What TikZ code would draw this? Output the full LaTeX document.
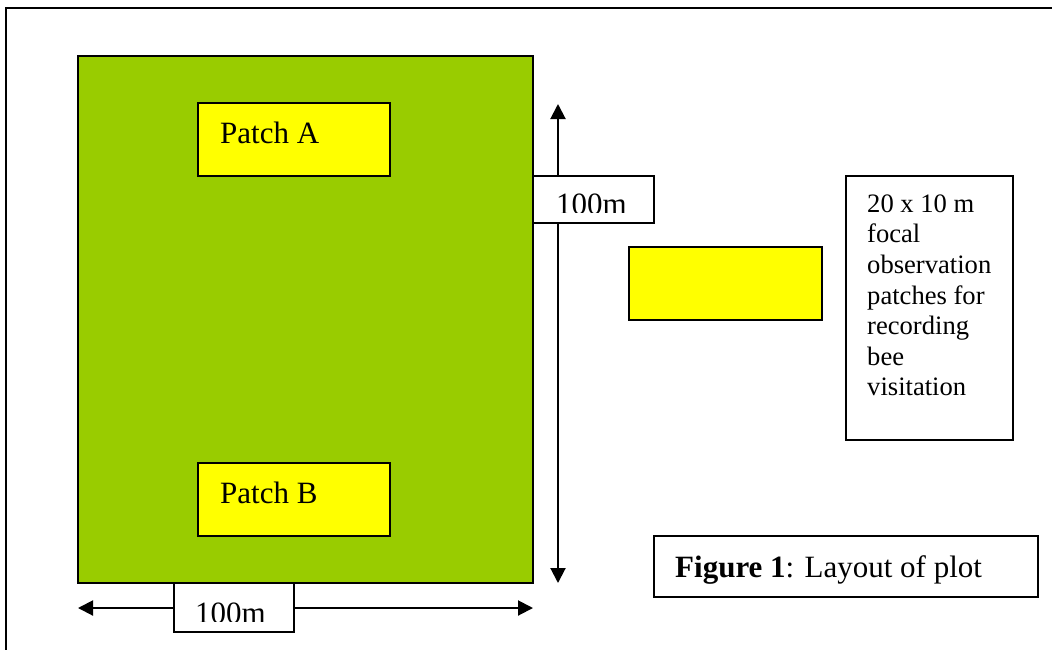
\documentclass[tikz,border=0pt]{standalone}
\usepackage{fontspec}
\setmainfont{Liberation Serif}
\usetikzlibrary{arrows.meta}
\definecolor{fieldgreen}{HTML}{99CC00}
\definecolor{patchyellow}{HTML}{FFFF00}
\tikzset{
  box/.style={draw=black, line width=2pt, inner sep=0pt},
  fieldbox/.style={box, fill=fieldgreen},
  patchbox/.style={box, fill=patchyellow},
  whitebox/.style={box, fill=white},
  bigtext/.style={inner sep=0pt, font=\fontsize{31}{37}\selectfont},
  smalltext/.style={inner sep=0pt, align=left, font=\fontsize{26.6}{30.6}\selectfont},
  dimarrow/.style={line width=2pt, {Triangle[length=15pt,width=15pt]}-{Triangle[length=15pt,width=15pt]}},
  frame/.style={line width=2pt}
}
\begin{document}
\begin{tikzpicture}[x=1pt,y=-1pt]
\useasboundingbox (0,0) rectangle (1052,649);
\clip (0,0) rectangle (1052,649);
% outer frame
\coordinate (fbl) at (6,700);
\coordinate (ftl) at (6,8);
\coordinate (ftr) at (1100,8);
\draw[frame] (fbl) -- (ftl) -- (ftr);
% field
\node[fieldbox, minimum width=455pt, minimum height=527pt] (field) at (305.5,319.5) {};
% patches
\node[patchbox, minimum width=192pt, minimum height=73pt] (patchA) at (294,139.5) {};
\node[bigtext, anchor=base west] (patchAtxt) at (220,143) {Patch A};
\node[patchbox, minimum width=192pt, minimum height=73pt] (patchB) at (294,499.5) {};
\node[bigtext, anchor=base west] (patchBtxt) at (220,503) {Patch B};
% vertical dimension arrow
\coordinate (vtop) at (558,104);
\coordinate (vbot) at (558,583);
\draw[dimarrow] (vtop) -- (vbot);
% horizontal dimension arrow
\coordinate (hleft) at (78,608);
\coordinate (hright) at (533,608);
\draw[dimarrow] (hleft) -- (hright);
% vertical label
\node[whitebox, minimum width=121pt, minimum height=47pt] (vlab) at (593.5,199.5) {};
\begin{scope}
  \clip (533,176) rectangle (654,212);
  \node[bigtext, anchor=base west] (vlabtxt) at (556,214) {100m};
\end{scope}
% horizontal label
\node[whitebox, minimum width=120pt, minimum height=49pt] (hlab) at (234,607.5) {};
\begin{scope}
  \clip (174,583) rectangle (294,621);
  \node[bigtext, anchor=base west] (hlabtxt) at (195,623) {100m};
\end{scope}
% legend patch
\node[patchbox, minimum width=193pt, minimum height=73pt] (legpatch) at (725.5,283.5) {};
% legend text box
\node[whitebox, minimum width=167pt, minimum height=264pt] (legbox) at (929.5,308) {};
\node[smalltext, anchor=north west] (legtxt) at (867,192) {\rule{0pt}{20pt}20 x 10 m\\focal\\observation\\patches for\\recording\\bee\\visitation};
% figure caption
\node[whitebox, minimum width=384pt, minimum height=61pt] (figbox) at (845.5,566.5) {};
\node[bigtext, anchor=base west] (figtxt) at (675,577) {\textbf{Figure 1}: Layout of plot};
\end{tikzpicture}
\end{document}
